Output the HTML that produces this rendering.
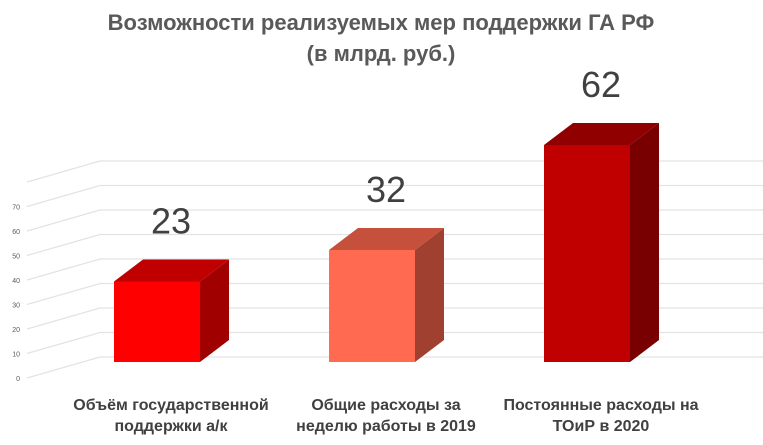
<!DOCTYPE html>
<html><head><meta charset="utf-8"><style>
body{margin:0;background:#fff;}
svg{display:block;font-family:"Liberation Sans",sans-serif;}
</style></head><body>
<svg id="chart" width="763" height="445" viewBox="0 0 763 445" xmlns="http://www.w3.org/2000/svg">
<text x="381" y="30" text-anchor="middle" font-size="22" font-weight="bold" fill="#595959">Возможности реализуемых  мер поддержки ГА РФ</text>
<text x="381" y="61" text-anchor="middle" font-size="22" font-weight="bold" fill="#595959">(в млрд. руб.)</text>
<g id="grid"></g><g id="bars"></g><g id="labels"></g>
</svg>
<script>
const categories=[["Объём государственной","поддержки а/к"],["Общие расходы за","неделю работы в 2019"],["Постоянные расходы на","ТОиР в 2020"]];
const values=[23,32,62];
const ticks=[0,10,20,30,40,50,60,70];
const NS="http://www.w3.org/2000/svg";
const base=362, k=3.5, axis0=378;
const colors=[["#ff0000","#c00000","#a00000"],["#ff6a50","#c5503b","#a04030"],["#c00000","#900000","#780000"]];
const bx=[114,329,544], bw=86, dx=29, dy=-22;
function mk(t,a,p){const e=document.createElementNS(NS,t);for(const q in a)e.setAttribute(q,a[q]);p.appendChild(e);return e;}
const g=document.getElementById('grid');
for(let v=0;v<=80;v+=10){
  const yf=axis0-v*k*0.7, yb=yf-21;
  const l=mk('polyline',{points:`27,${yf} 100,${yb} 763,${yb}`,fill:'none',stroke:'#e3e3e3','stroke-width':1.2},g);
  
  
}
ticks.forEach(v=>{
  const t=mk('text',{x:20,y:axis0-v*k*0.7+3,'font-size':7,fill:'#595959','text-anchor':'end'},g);
  t.textContent=v;
  
  
});
const b=document.getElementById('bars'), lb=document.getElementById('labels');
values.forEach((v,i)=>{
  const x=bx[i], top=base-v*k, c=colors[i];
  const grp=mk('g',{},b);
  
  
  mk('polygon',{points:`${x+bw},${top} ${x+bw+dx},${top+dy} ${x+bw+dx},${base+dy} ${x+bw},${base}`,fill:c[2]},grp);
  mk('polygon',{points:`${x},${top} ${x+dx},${top+dy} ${x+bw+dx},${top+dy} ${x+bw},${top}`,fill:c[1]},grp);
  mk('rect',{x:x,y:top,width:bw,height:base-top,fill:c[0]},grp);
  const t=mk('text',{x:x+bw/2+14,y:top+dy-26,'font-size':36,fill:'#404040','text-anchor':'middle'},lb);
  t.textContent=v;
  
  
  categories[i].forEach((s,j)=>{
    const c2=mk('text',{x:x+bw/2+14,y:410+j*21,'font-size':16,'font-weight':'bold',fill:'#404040','text-anchor':'middle'},lb);
    c2.textContent=s;
    
    
  });
});
</script>
</body></html>
